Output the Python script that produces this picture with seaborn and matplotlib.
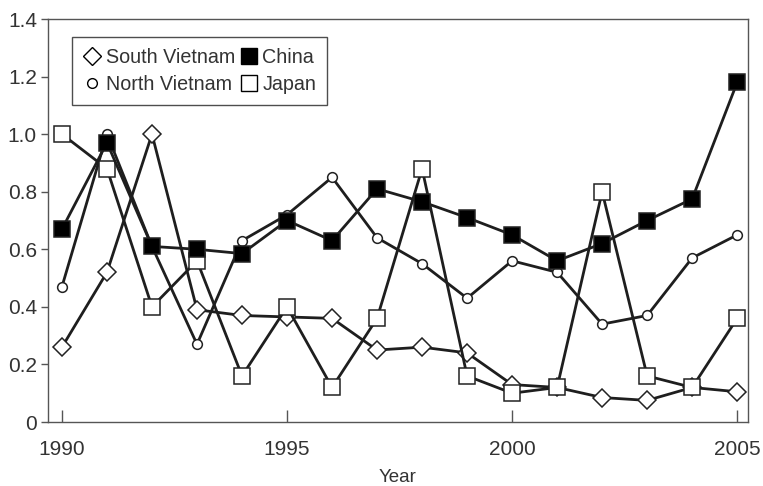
import numpy as np
import pandas as pd
import matplotlib
matplotlib.use("Agg")
import matplotlib.pyplot as plt
import seaborn as sns
from matplotlib.lines import Line2D

years = list(range(1990, 2006))
south_vietnam = [0.26, 0.52, 1.00, 0.39, 0.37, 0.365, 0.36, 0.25, 0.26, 0.24, 0.13, 0.12, 0.085, 0.075, 0.12, 0.105]
north_vietnam = [0.47, 1.00, 0.61, 0.27, 0.63, 0.72, 0.85, 0.64, 0.55, 0.43, 0.56, 0.52, 0.34, 0.37, 0.57, 0.65]
china = [0.67, 0.97, 0.61, 0.60, 0.585, 0.70, 0.63, 0.81, 0.765, 0.71, 0.65, 0.56, 0.62, 0.70, 0.775, 1.18]
japan = [1.00, 0.88, 0.40, 0.56, 0.16, 0.40, 0.12, 0.36, 0.88, 0.16, 0.10, 0.12, 0.80, 0.16, 0.12, 0.36]

x_ticks = [1990, 1995, 2000, 2005]
y_ticks = [0, 0.2, 0.4, 0.6, 0.8, 1.0, 1.2, 1.4]
y_tick_labels = ["0", "0.2", "0.4", "0.6", "0.8", "1.0", "1.2", "1.4"]

sns.set_theme(style="white")
plt.rcParams['font.family'] = ['Liberation Sans', 'DejaVu Sans']

df = pd.DataFrame({
    "Year": years * 4,
    "Value": south_vietnam + north_vietnam + japan + china,
    "Country": (["South Vietnam"] * 16 + ["North Vietnam"] * 16
                + ["Japan"] * 16 + ["China"] * 16),
})

fig = plt.figure(figsize=(7.63, 4.86), dpi=100)
ax = fig.add_axes([48 / 763, 64 / 486, 700 / 763, 403 / 486])

lc = "#1e1e1e"
styles = {
    "South Vietnam": dict(marker="D", ms=9.5, mfc="white"),
    "North Vietnam": dict(marker="o", ms=7, mfc="white"),
    "Japan": dict(marker="s", ms=11, mfc="white"),
    "China": dict(marker="s", ms=11, mfc="black"),
}
for i, (name, st) in enumerate(styles.items()):
    sub = df[df["Country"] == name]
    sns.lineplot(data=sub, x="Year", y="Value", ax=ax, color=lc, lw=2.0,
                 marker=st["marker"], markersize=st["ms"],
                 markerfacecolor=st["mfc"], markeredgecolor="#222222",
                 markeredgewidth=1.1, zorder=2 + i, legend=False)

ax.set_xlim(1989.69, 2005.24)
ax.set_ylim(0, 1.4)
ax.set_xticks(x_ticks)
ax.set_xticklabels([str(t) for t in x_ticks])
ax.set_yticks(y_ticks)
ax.set_yticklabels(y_tick_labels)
ax.set_xlabel("Year", fontsize=13.5, color="#333333", labelpad=7)
ax.set_ylabel("")

for s in ax.spines.values():
    s.set_color("#555555")
    s.set_linewidth(1.0)
ax.tick_params(axis="y", direction="out", length=5, width=1, color="#555555",
               labelsize=15, labelcolor="#333333", pad=3, left=True)
ax.tick_params(axis="x", direction="in", length=9, width=1, color="#555555",
               labelsize=15, labelcolor="#333333", pad=13, bottom=True)

handles = [
    Line2D([], [], ls="none", marker="D", ms=9, mfc="white", mec="black", mew=1.0),
    Line2D([], [], ls="none", marker="o", ms=7, mfc="white", mec="black", mew=1.0),
    Line2D([], [], ls="none", marker="s", ms=12, mfc="black", mec="black", mew=1.0),
    Line2D([], [], ls="none", marker="s", ms=12, mfc="white", mec="black", mew=1.0),
]
labels = ["South Vietnam", "North Vietnam", "China", "Japan"]
leg = ax.legend(handles, labels, ncol=2, loc="upper left",
                bbox_to_anchor=(24 / 700, 1 - 18 / 403), fontsize=14.2,
                frameon=True, fancybox=False, edgecolor="#222222",
                handlelength=0.9, handletextpad=0.25, columnspacing=0.25,
                labelspacing=0.42, borderpad=0.55, borderaxespad=0)
leg.get_frame().set_linewidth(1.0)
for t in leg.get_texts():
    t.set_color("#333333")

fig.savefig("out.png", dpi=100)
